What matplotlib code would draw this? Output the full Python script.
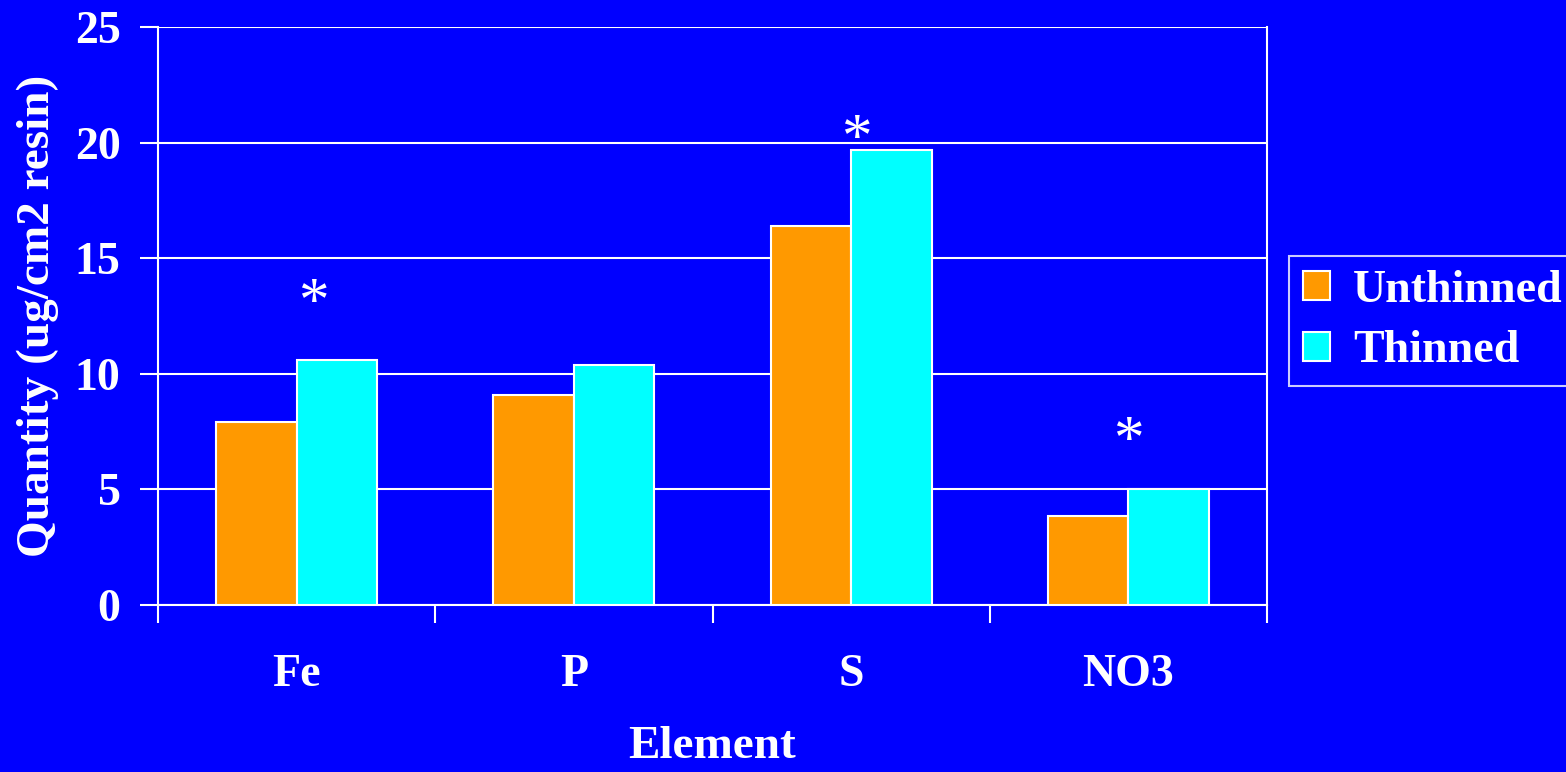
import numpy as np
import matplotlib
matplotlib.use('Agg')
from matplotlib import pyplot as plt
from matplotlib.patches import Patch

# resin-capsule nutrient capture, thinned vs unthinned stands
elements = ['Fe', 'P', 'S', 'NO3']
unthinned = [7.9, 9.1, 16.4, 3.85]
thinned = [10.6, 10.4, 19.7, 5.0]

# significance markers: (x position, y position)
star_x = [0.06, 2.02, 3.0]
star_y = [13.0, 20.1, 7.05]

bg = '#0000FF'
orange = '#FF9900'
cyan = '#00FFFF'

plt.rcParams['font.family'] = ['Liberation Serif', 'DejaVu Serif']
plt.rcParams['font.weight'] = 'bold'

fig = plt.figure(figsize=(15.66, 7.72), dpi=100, facecolor=bg)
ax = fig.add_axes([0.1009, 0.2163, 0.7082, 0.7487], facecolor=bg)

x = np.arange(len(elements))
w = 0.29
ax.bar(x - w/2, unthinned, w, color=orange, edgecolor='white', linewidth=1.5, zorder=3)
ax.bar(x + w/2, thinned, w, color=cyan, edgecolor='white', linewidth=1.5, zorder=3)

for sx, sy in zip(star_x, star_y):
  ax.text(sx, sy, '*', color='white', fontsize=44, fontweight='normal',
          ha='center', va='center')

ax.set_xlim(-0.5, len(elements) - 0.5)
ax.set_ylim(0, 25)
ax.set_yticks([0, 5, 10, 15, 20, 25])
ax.yaxis.grid(True, color='white', linewidth=1.5, zorder=1)

# category labels sit between the boundary ticks
ax.set_xticks(np.arange(-0.5, len(elements)), minor=False)
ax.set_xticklabels([])
ax.set_xticks(x, minor=True)
ax.set_xticklabels(elements, minor=True)
ax.tick_params(axis='x', which='minor', length=0, pad=35, labelsize=33, labelcolor='white')
ax.tick_params(axis='x', which='major', length=13, width=1.5, color='white', direction='out')
ax.tick_params(axis='y', length=13, width=1.5, color='white', pad=14,
               labelsize=33, labelcolor='white')

for side in ['left', 'right', 'bottom']:
  ax.spines[side].set_color('white')
  ax.spines[side].set_linewidth(1.5)
ax.spines['top'].set_visible(False)

ax.set_xlabel('Element', color='white', fontsize=34, fontweight='bold', labelpad=22)
ax.set_ylabel('Quantity (ug/cm2 resin)', color='white', fontsize=34,
              fontweight='bold', labelpad=11)

handles = [Patch(facecolor=orange, edgecolor='white', linewidth=1.5, label='Unthinned'),
           Patch(facecolor=cyan, edgecolor='white', linewidth=1.5, label='Thinned')]
leg = fig.legend(handles=handles, loc='upper left', bbox_to_anchor=(0.823, 0.668),
                 frameon=True, fontsize=33, handlelength=0.6, handleheight=0.6,
                 handletextpad=0.5, borderpad=0.3, labelspacing=0.4,
                 fancybox=False, borderaxespad=0)
leg.get_frame().set_facecolor(bg)
leg.get_frame().set_edgecolor('white')
leg.get_frame().set_linewidth(1.5)
for t in leg.get_texts():
  t.set_color('white')

fig.savefig('out.png', dpi=100, facecolor=bg)
